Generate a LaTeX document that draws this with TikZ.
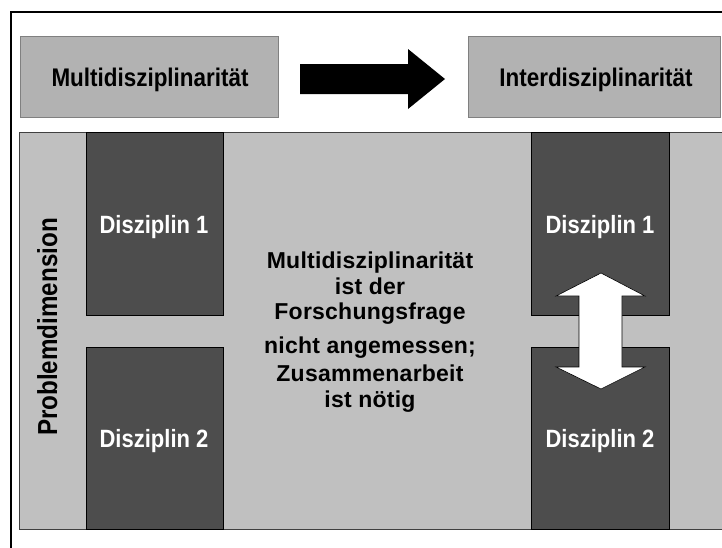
\documentclass[tikz,border=0pt]{standalone}
\usepackage{fontspec}
\setmainfont{Liberation Sans}
\newfontfamily\condfont[FakeStretch=0.88]{Liberation Sans}
\newfontfamily\spacedfont[LetterSpace=1]{Liberation Sans}
\definecolor{headfill}{HTML}{B2B2B2}
\definecolor{headline}{HTML}{808080}
\definecolor{panelfill}{HTML}{C0C0C0}
\definecolor{colfill}{HTML}{4D4D4D}
\tikzset{
  headbox/.style={fill=headfill, draw=headline, line width=1.3pt},
  discbox/.style={fill=colfill, draw=black, line width=0.6pt},
  headlabel/.style={font=\condfont\bfseries\fontsize{25.5}{30}\selectfont, text=black, anchor=base, inner sep=0pt},
  disclabel/.style={font=\condfont\bfseries\fontsize{25}{30}\selectfont, text=white, anchor=base, inner sep=0pt},
  midline/.style={font=\spacedfont\bfseries\fontsize{23}{28}\selectfont, anchor=base, inner sep=0pt}
}
\begin{document}
\begin{tikzpicture}[x=1pt, y=-1pt]
  \useasboundingbox (0,0) rectangle (722,547);
  \clip (0,0) rectangle (722,547);
  \fill[white] (0,0) rectangle (722,547);

  % outer frame (runs off the page at right and bottom)
  \draw[black, line width=1.3pt] (11,12) rectangle (760,580);

  % heading boxes
  \node[headbox, minimum width=258pt, minimum height=81pt, anchor=north west, inner sep=0pt] (multi) at (20,36) {};
  \node[headbox, minimum width=252pt, minimum height=81pt, anchor=north west, inner sep=0pt] (inter) at (468,36) {};
  \node[headlabel] (multitext) at (150,86) {Multidisziplinarität};
  \node[headlabel] (intertext) at (596,86) {Interdisziplinarität};

  % transition arrow
  \fill[black] (300,64) -- (408,64) -- (408,49) -- (445,79) -- (408,109) -- (408,94) -- (300,94) -- cycle;

  % problem panel
  \fill[panelfill] (19,132) rectangle (760,529);
  \draw[black!75, line width=0.8pt] (760,132) -- (19,132) -- (19,529) -- (760,529);

  % discipline columns
  \node[discbox, minimum width=137pt, minimum height=183pt, anchor=north west, inner sep=0pt] (d1l) at (86,132) {};
  \node[discbox, minimum width=137pt, minimum height=182pt, anchor=north west, inner sep=0pt] (d2l) at (86,347) {};
  \node[discbox, minimum width=138pt, minimum height=183pt, anchor=north west, inner sep=0pt] (d1r) at (531,132) {};
  \node[discbox, minimum width=138pt, minimum height=182pt, anchor=north west, inner sep=0pt] (d2r) at (531,347) {};

  \node[disclabel] (t1l) at (154,233) {Disziplin 1};
  \node[disclabel] (t2l) at (154,447) {Disziplin 2};
  \node[disclabel] (t1r) at (600,233) {Disziplin 1};
  \node[disclabel] (t2r) at (600,447) {Disziplin 2};

  % exchange arrow between the two disciplines
  \draw[fill=white, draw=black, line width=0.6pt, line join=miter]
    (601,273) -- (645,296) -- (622,296) -- (622,367) -- (645,367) -- (601,389)
    -- (556,367) -- (579,367) -- (579,296) -- (556,296) -- cycle;

  % side label
  \node[headlabel, rotate=90, font=\condfont\bfseries\fontsize{27.5}{30}\selectfont] (dim) at (57,327) {Problemdimension};

  % central statement
  \node[midline] (m1) at (370,268) {Multidisziplinarität};
  \node[midline] (m2) at (370,294) {ist der};
  \node[midline] (m3) at (370,319) {Forschungsfrage};
  \node[midline] (m4) at (370,353) {nicht angemessen;};
  \node[midline] (m5) at (370,381.5) {Zusammenarbeit};
  \node[midline] (m6) at (370,407) {ist nötig};
\end{tikzpicture}
\end{document}
